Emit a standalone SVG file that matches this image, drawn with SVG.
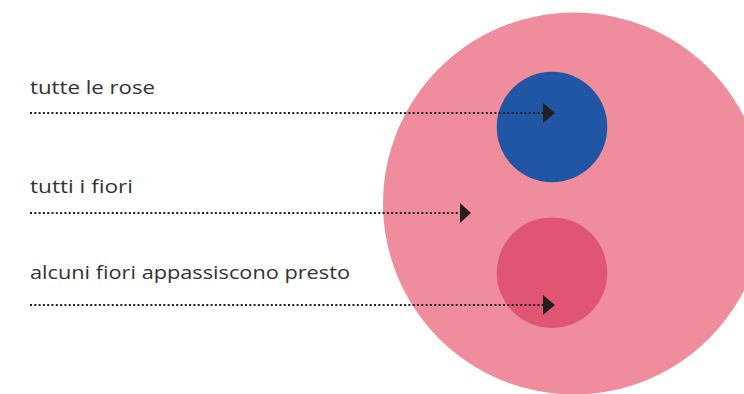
<svg xmlns="http://www.w3.org/2000/svg" width="744" height="394" viewBox="0 0 744 394">
<style>
.lbl{font-family:"Open Sans","Noto Sans",sans-serif;font-size:18px;fill:#333333}
.dot{stroke:#222222;stroke-width:2;stroke-dasharray:2 2.3;fill:none}
.head{fill:#231f20}
</style>
<rect width="744" height="394" fill="#ffffff"/>
<g id="fiori"><circle cx="574" cy="203.5" r="191" fill="#f08d9d"/></g>
<g id="rose"><circle cx="552" cy="127" r="55.3" fill="#2156a5"/></g>
<g id="appassiscono"><circle cx="552" cy="272.7" r="55.3" fill="#e05672"/></g>
<g id="labels">
<text class="lbl" x="30" y="94" textLength="125" lengthAdjust="spacingAndGlyphs">tutte le rose</text>
<text class="lbl" x="30" y="193" textLength="103" lengthAdjust="spacingAndGlyphs">tutti i fiori</text>
<text class="lbl" x="30" y="279" textLength="320" lengthAdjust="spacingAndGlyphs">alcuni fiori appassiscono presto</text>
</g>
<g id="connectors">
<line class="dot" x1="30" y1="113" x2="544" y2="113"/>
<polygon class="head" points="543,103 555,113 543,123"/>
<line class="dot" x1="30" y1="213" x2="460" y2="213"/>
<polygon class="head" points="460,203 471,213 460,223"/>
<line class="dot" x1="30" y1="305" x2="544" y2="305"/>
<polygon class="head" points="543,295 555,305 543,315"/>
</g>
</svg>
